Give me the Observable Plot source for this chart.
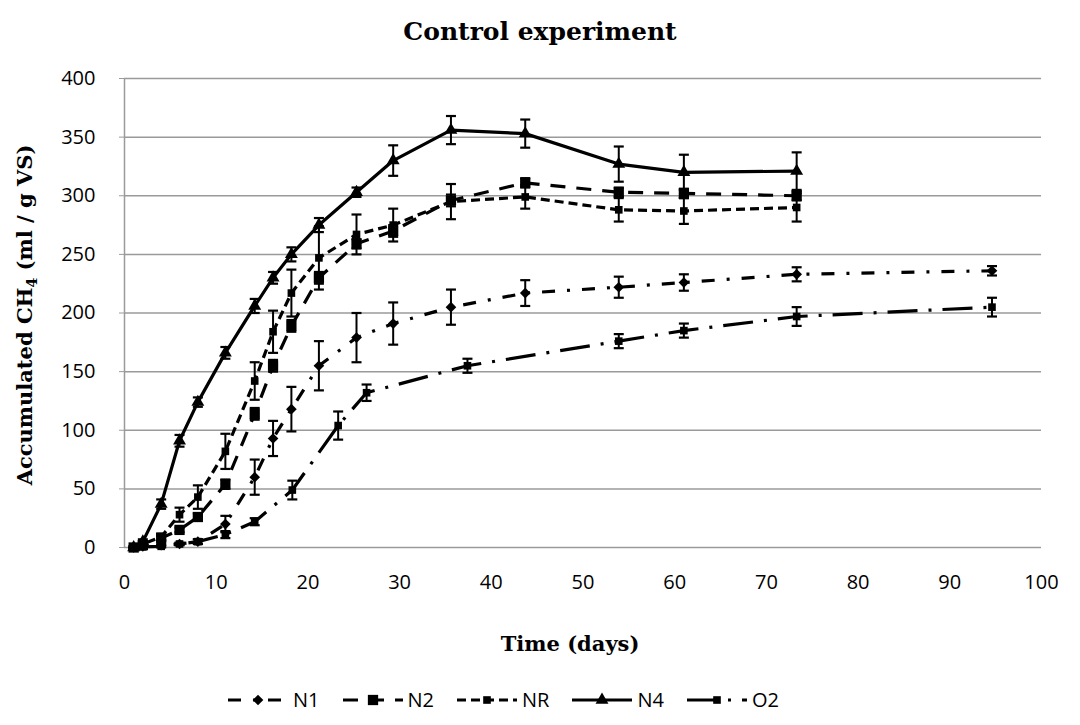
<!DOCTYPE html>
<html>
<head>
<meta charset="utf-8">
<script src="https://cdn.jsdelivr.net/npm/d3@7"></script>
<script src="https://cdn.jsdelivr.net/npm/@observablehq/plot@0.6"></script>
<style>
  body { margin: 0; background: #fff; }
  #wrap { position: relative; width: 1080px; height: 725px; overflow: hidden; background: #fff; }
  #title { position: absolute; left: 0; top: 17px; width: 1080px; text-align: center;
           font: bold 25px "DejaVu Serif", serif; color: #000; }
  #chart { position: absolute; left: 0; top: 60px; }
  #ytitle { position: absolute; left: 26px; top: 315px; transform: translate(-50%, -50%) rotate(-90deg);
            white-space: nowrap; font: bold 21px "DejaVu Serif", serif; color: #000; }
  #ytitle sub { font-size: 14px; }
  #xtitle { position: absolute; left: 570px; top: 643px; transform: translate(-50%, -50%);
            white-space: nowrap; font: bold 21px "DejaVu Serif", serif; color: #000; }
  #legend { position: absolute; left: 226px; top: 686px; display: flex;
            gap: 21px; font: 20px "Open Sans", sans-serif; color: #000; }
  #legend .item { display: flex; align-items: center; gap: 3px; }
</style>
</head>
<body>
<div id="wrap">
  <div id="title">Control experiment</div>
  <div id="chart"></div>
  <div id="ytitle">Accumulated CH<sub>4</sub> (ml / g VS)</div>
  <div id="xtitle">Time (days)</div>
  <div id="legend"></div>
</div>
<script>
// Sampling days (days since start) for each series
const daysN1 = [1, 2, 4, 6, 8, 11, 14.2, 16.2, 18.2, 21.2, 25.3, 29.3, 35.6, 43.7, 53.9, 61, 73.3, 94.6];
const daysN2 = [1, 2, 4, 6, 8, 11, 14.2, 16.2, 18.2, 21.2, 25.3, 29.3, 35.6, 43.7, 53.9, 61, 73.3];
const daysNR = [1, 2, 4, 6, 8, 11, 14.2, 16.2, 18.2, 21.2, 25.3, 29.3, 35.6, 43.7, 53.9, 61, 73.3];
const daysN4 = [1, 2, 4, 6, 8, 11, 14.2, 16.2, 18.2, 21.2, 25.3, 29.3, 35.6, 43.7, 53.9, 61, 73.3];
const daysO2 = [1, 2, 4, 6, 8, 11, 14.2, 18.3, 23.3, 26.4, 37.4, 53.9, 61, 73.3, 94.6];

// Accumulated methane, ml / g VS
const valuesN1 = [0, 1, 2, 3, 5, 20, 60, 93, 118, 155, 179, 191, 205, 217, 222, 226, 233, 236];
const valuesN2 = [0, 2, 8, 15, 26, 54, 114, 155, 189, 230, 259, 270, 296, 311, 303, 302, 300];
const valuesNR = [0, 3, 9, 28, 43, 82, 142, 184, 217, 247, 267, 275, 295, 299, 288, 287, 290];
const valuesN4 = [0, 5, 37, 91, 124, 166, 206, 230, 250, 275, 303, 330, 356, 353, 327, 320, 321];
const valuesO2 = [0, 0.5, 1, 3, 5, 11, 22, 49, 104, 132, 155, 176, 185, 197, 205];

// Standard deviations (error bars)
const errorsN1 = [0.5, 1, 1, 1, 2, 7, 15, 15, 19, 21, 21, 18, 15, 11, 9, 7, 6, 4];
const errorsN2 = [1, 1, 2, 2, 3, 4, 5, 5, 5, 5, 4, 5, 5, 4, 4, 4, 4];
const errorsNR = [1, 2, 3, 6, 10, 15, 16, 18, 20, 27, 17, 14, 15, 10, 10, 11, 12];
const errorsN4 = [1, 2, 4, 5, 4, 5, 6, 5, 6, 6, 4, 13, 12, 12, 15, 15, 16];
const errorsO2 = [0.5, 0.5, 1, 1, 2, 3, 3, 8, 12, 7, 6, 6, 6, 8, 8];

const seriesNames = ["N1", "N2", "NR", "N4", "O2"];
const xTicks = [0, 10, 20, 30, 40, 50, 60, 70, 80, 90, 100];
const yTicks = [0, 50, 100, 150, 200, 250, 300, 350, 400];

// Table built from the arrays above
const source = {
  N1: [daysN1, valuesN1, errorsN1],
  N2: [daysN2, valuesN2, errorsN2],
  NR: [daysNR, valuesNR, errorsNR],
  N4: [daysN4, valuesN4, errorsN4],
  O2: [daysO2, valuesO2, errorsO2]
};
const rowsFor = name => {
  const [d, v, e] = source[name];
  return d.map((day, i) => ({series: name, day, value: v[i], err: e[i]}));
};

// Line and marker styling per series
const styles = {
  N1: {dash: "13,12,3,12", symbol: "diamond2", r: 4.8},
  N2: {dash: "15,11", symbol: "square", r: 5.8},
  NR: {dash: "9,5", symbol: "square", r: 4.3},
  N4: {dash: null, symbol: "triangle", r: 4.8},
  O2: {dash: "30,11,3,11", symbol: "square", r: 4.3}
};

// Horizontal cap for the error bars
const cap = {draw(ctx, size) { const h = Math.sqrt(size / Math.PI); ctx.moveTo(-h, 0); ctx.lineTo(h, 0); }};

const marks = [
  Plot.gridY(yTicks, {stroke: "#9a9a9a", strokeOpacity: 1, strokeWidth: 1.5}),
  Plot.ruleX([0], {stroke: "#9a9a9a", strokeWidth: 1.5}),
  Plot.axisY(yTicks, {tickSize: 5, tickPadding: 24, stroke: "#9a9a9a", label: null,
                      fontSize: 20, fontFamily: "Open Sans"}),
  Plot.axisX(xTicks, {tickSize: 0, tickPadding: 27, label: null, fontSize: 20, fontFamily: "Open Sans"})
];

for (const name of seriesNames) {
  const rows = rowsFor(name);
  const s = styles[name];
  marks.push(
    Plot.line(rows, {x: "day", y: "value", stroke: "#000", strokeWidth: 3.2, curve: "linear",
                     strokeDasharray: s.dash ?? undefined, strokeLinecap: "butt", strokeLinejoin: "round"}),
    Plot.ruleX(rows, {x: "day", y1: d => d.value - d.err, y2: d => d.value + d.err, stroke: "#000", strokeWidth: 2}),
    Plot.dot(rows, {x: "day", y: d => d.value + d.err, symbol: cap, r: 5, stroke: "#000", strokeWidth: 2.2, fill: "none"}),
    Plot.dot(rows, {x: "day", y: d => d.value - d.err, symbol: cap, r: 5, stroke: "#000", strokeWidth: 2.2, fill: "none"}),
    Plot.dot(rows, {x: "day", y: "value", symbol: s.symbol, r: s.r, fill: "#000", stroke: "none"})
  );
}

const chart = Plot.plot({
  width: 1080,
  height: 600,
  marginTop: 18,
  marginBottom: 113,
  marginLeft: 124,
  marginRight: 39,
  x: {domain: [0, 100]},
  y: {domain: [0, 400]},
  style: {background: "#fff", color: "#000", fontFamily: "Open Sans"},
  marks
});
document.getElementById("chart").append(chart);

// Legend: line sample with marker, then series name
const legend = document.getElementById("legend");
for (const name of seriesNames) {
  const s = styles[name];
  const item = document.createElement("div");
  item.className = "item";
  const svg = d3.create("svg").attr("width", 64).attr("height", 20);
  svg.append("line").attr("x1", 2).attr("x2", 62).attr("y1", 10).attr("y2", 10)
    .attr("stroke", "#000").attr("stroke-width", 3.2).attr("stroke-dasharray", s.dash);
  const symType = {diamond2: d3.symbolDiamond2, square: d3.symbolSquare, triangle: d3.symbolTriangle}[s.symbol];
  svg.append("path").attr("transform", "translate(32,10)")
    .attr("d", d3.symbol(symType, Math.PI * s.r * s.r)()).attr("fill", "#000");
  item.append(svg.node());
  const label = document.createElement("span");
  label.textContent = name;
  item.append(label);
  legend.append(item);
}
</script>
</body>
</html>
